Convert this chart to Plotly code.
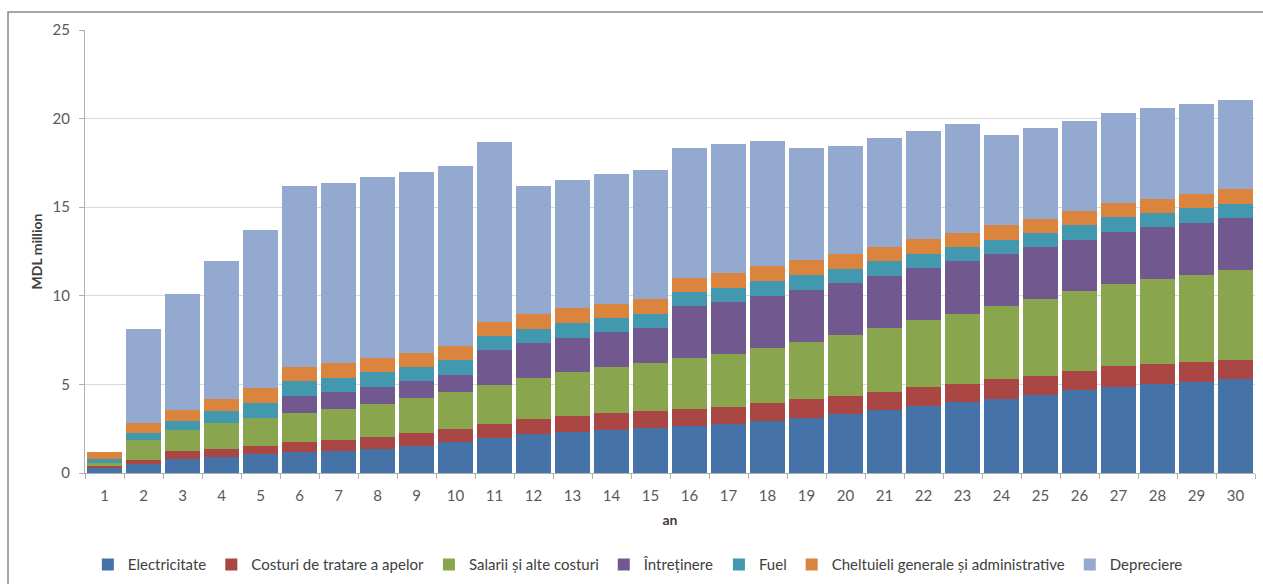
import plotly.graph_objects as go

# Years of operation
ani = list(range(1, 31))

# Annual cost components, MDL million
electricitate = [0.26, 0.50, 0.79, 0.92, 1.07, 1.17, 1.24, 1.35, 1.54, 1.73,
                 1.95, 2.18, 2.31, 2.44, 2.54, 2.67, 2.78, 2.93, 3.12, 3.33,
                 3.55, 3.77, 4.00, 4.20, 4.43, 4.66, 4.88, 5.03, 5.15, 5.28]
tratare_apa = [0.13, 0.23, 0.43, 0.43, 0.47, 0.56, 0.62, 0.66, 0.69, 0.73,
               0.81, 0.84, 0.92, 0.96, 0.95, 0.95, 0.94, 1.00, 1.03, 1.04,
               1.03, 1.08, 1.05, 1.08, 1.07, 1.10, 1.17, 1.11, 1.12, 1.12]
salarii = [0.16, 1.13, 1.18, 1.45, 1.58, 1.63, 1.73, 1.90, 2.00, 2.12,
           2.21, 2.35, 2.46, 2.59, 2.69, 2.88, 3.02, 3.13, 3.27, 3.44,
           3.62, 3.81, 3.95, 4.15, 4.30, 4.49, 4.62, 4.79, 4.92, 5.08]
intretinere = [0.00, 0.00, 0.00, 0.00, 0.00, 1.00, 0.99, 0.95, 0.95, 0.96,
               1.96, 1.94, 1.93, 1.95, 1.99, 2.91, 2.91, 2.93, 2.93, 2.93,
               2.94, 2.91, 2.94, 2.91, 2.93, 2.92, 2.93, 2.93, 2.93, 2.91]
fuel = [0.24, 0.41, 0.51, 0.69, 0.81, 0.82, 0.79, 0.83, 0.81, 0.81,
        0.79, 0.80, 0.85, 0.81, 0.79, 0.80, 0.81, 0.83, 0.84, 0.79,
        0.80, 0.81, 0.81, 0.83, 0.81, 0.81, 0.83, 0.80, 0.82, 0.80]
cheltuieli_generale = [0.41, 0.53, 0.64, 0.71, 0.84, 0.81, 0.81, 0.81, 0.81, 0.80,
                       0.81, 0.85, 0.83, 0.81, 0.84, 0.81, 0.82, 0.84, 0.81, 0.82,
                       0.81, 0.80, 0.81, 0.81, 0.82, 0.81, 0.80, 0.82, 0.82, 0.81]
depreciere = [0.00, 5.35, 6.57, 7.76, 8.96, 10.18, 10.21, 10.19, 10.20, 10.20,
              10.17, 7.26, 7.24, 7.32, 7.30, 7.31, 7.29, 7.06, 6.35, 6.11,
              6.16, 6.14, 6.14, 5.12, 5.12, 5.10, 5.11, 5.12, 5.04, 5.07]

series = [
    ("Electricitate", electricitate, "#4572A7"),
    ("Costuri de tratare a apelor", tratare_apa, "#AA4643"),
    ("Salarii și alte costuri", salarii, "#89A54E"),
    ("Întreținere", intretinere, "#71588F"),
    ("Fuel", fuel, "#4198AF"),
    ("Cheltuieli generale și administrative", cheltuieli_generale, "#DB843D"),
    ("Depreciere", depreciere, "#93A9CF"),
]

FONT = "Lato"
TEXT = "#404040"
TICK = "#595959"

fig = go.Figure()
for name, vals, color in series:
    fig.add_trace(go.Bar(
        x=[str(a) for a in ani], y=vals, name=name,
        marker=dict(color=color, line=dict(width=0)),
    ))

fig.update_layout(
    barmode="stack",
    bargap=0.1,
    width=1263, height=584,
    margin=dict(l=85, r=8, t=30, b=111, autoexpand=False),
    paper_bgcolor="white", plot_bgcolor="white",
    font=dict(family=FONT, size=15, color=TEXT),
    showlegend=True,
    legend=dict(
        orientation="h", x=0.4725, xanchor="center", y=-0.207, yanchor="middle",
        font=dict(family=FONT, size=15, color=TEXT),
        traceorder="normal", itemwidth=30,
    ),
    xaxis=dict(
        type="category",
        title=dict(text="<b>an</b>", font=dict(family=FONT, size=14, color=TEXT), standoff=12),
        showline=True, linecolor="#b0b0b0", linewidth=1,
        ticks="outside", tickson="boundaries", ticklen=5, tickcolor="#b0b0b0",
        tickfont=dict(family=FONT, size=15, color=TICK),
        ticklabelstandoff=9,
        showgrid=False,
        automargin=False,
    ),
    yaxis=dict(
        title=dict(text="<b>MDL million</b>", font=dict(family=FONT, size=14, color=TEXT), standoff=6),
        range=[0, 25], dtick=5,
        showline=True, linecolor="#b0b0b0", linewidth=1,
        ticks="outside", ticklen=5, tickcolor="#b0b0b0",
        tickfont=dict(family=FONT, size=15, color=TICK),
        ticklabelstandoff=6,
        showgrid=True, gridcolor="#d9d9d9", gridwidth=1,
        zeroline=False,
        automargin=False,
    ),
)

# Outer chart frame
fig.add_shape(
    type="rect", xref="paper", yref="paper",
    x0=-0.0658, x1=1.02, y0=-0.3, y1=1.0406,
    line=dict(color="#8a8a8a", width=1.5), fillcolor="rgba(0,0,0,0)",
    layer="below",
)

fig.write_html("out.html")
